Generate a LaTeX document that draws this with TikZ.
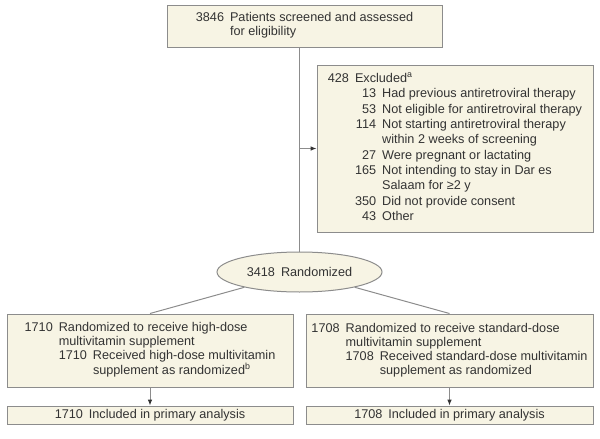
\documentclass[tikz,border=0pt]{standalone}
\usepackage{fontspec}
\setmainfont{Liberation Sans}
\usetikzlibrary{arrows.meta,shapes.geometric}
\definecolor{FlowFill}{HTML}{F7F4E4}
\definecolor{FlowLine}{HTML}{8C8C8C}
\definecolor{FlowText}{HTML}{333333}

\begin{document}
\begin{tikzpicture}[
  x=0.75pt, y=-0.75pt,
  font=\fontsize{9.5}{10.4}\selectfont,
  box/.style={draw=FlowLine, line width=0.75pt, fill=FlowFill, text=FlowText,
    align=center, inner sep=0pt},
  oval/.style={box, ellipse},
  link/.style={draw=FlowLine, line width=0.75pt},
  arr/.style={link, -{Latex[length=4.5pt, width=3.5pt, color=FlowText]}}
]
\useasboundingbox (0,0) rectangle (600,439);

\node[box, minimum width=206.25pt, minimum height=31.5pt] (screen) at (304.5,26)
  {\begin{tabular}{@{}r@{\hspace{4.5pt}}l@{}}
   3846 & Patients screened and assessed\\
        & for eligibility
   \end{tabular}};

\node[box, minimum width=207pt, minimum height=125.25pt,
      font=\fontsize{9.5}{11.5}\selectfont] (excl) at (455,148.5)
  {\begin{tabular}{@{}r@{\hspace{4.5pt}}r@{\hspace{4.5pt}}l@{}}
   428 & \multicolumn{2}{@{}l@{}}{Excluded\textsuperscript{a}}\\
       & 13  & Had previous antiretroviral therapy\\
       & 53  & Not eligible for antiretroviral therapy\\
       & 114 & Not starting antiretroviral therapy\\
       &     & within 2 weeks of screening\\
       & 27  & Were pregnant or lactating\\
       & 165 & Not intending to stay in Dar es\\
       &     & Salaam for ≥2 y\\
       & 350 & Did not provide consent\\
       & 43  & Other
   \end{tabular}};

\node[oval, minimum width=123.75pt, minimum height=30pt] (rand) at (299.5,272)
  {3418\hspace{4.5pt}Randomized};

\node[box, minimum width=214.5pt, minimum height=54.75pt] (high) at (150,350.5)
  {\begin{tabular}{@{}r@{\hspace{4.5pt}}r@{\hspace{4.5pt}}l@{}}
   1710 & \multicolumn{2}{@{}l@{}}{Randomized to receive high-dose}\\
        & \multicolumn{2}{@{}l@{}}{multivitamin supplement}\\
        & 1710 & Received high-dose multivitamin\\
        &      & supplement as randomized\textsuperscript{b}
   \end{tabular}};

\node[box, minimum width=215.25pt, minimum height=54.75pt] (std) at (449.5,350.5)
  {\begin{tabular}{@{}r@{\hspace{4.5pt}}r@{\hspace{4.5pt}}l@{}}
   1708 & \multicolumn{2}{@{}l@{}}{Randomized to receive standard-dose}\\
        & \multicolumn{2}{@{}l@{}}{multivitamin supplement}\\
        & 1708 & Received standard-dose multivitamin\\
        &      & supplement as randomized
   \end{tabular}};

\node[box, minimum width=214.5pt, minimum height=13.5pt] (highan) at (150,415)
  {1710\hspace{4.5pt}Included in primary analysis};
\node[box, minimum width=215.25pt, minimum height=13.5pt] (stdan) at (449.5,415)
  {1708\hspace{4.5pt}Included in primary analysis};

\draw[link] (screen.south -| rand.north) -- (rand.north);
\draw[arr] (rand.north |- excl.west) -- (excl.west);
\draw[link] (rand) -- (high.north);
\draw[link] (rand) -- (std.north);
\draw[arr] (high.south) -- (highan.north);
\draw[arr] (std.south) -- (stdan.north);
\end{tikzpicture}
\end{document}
